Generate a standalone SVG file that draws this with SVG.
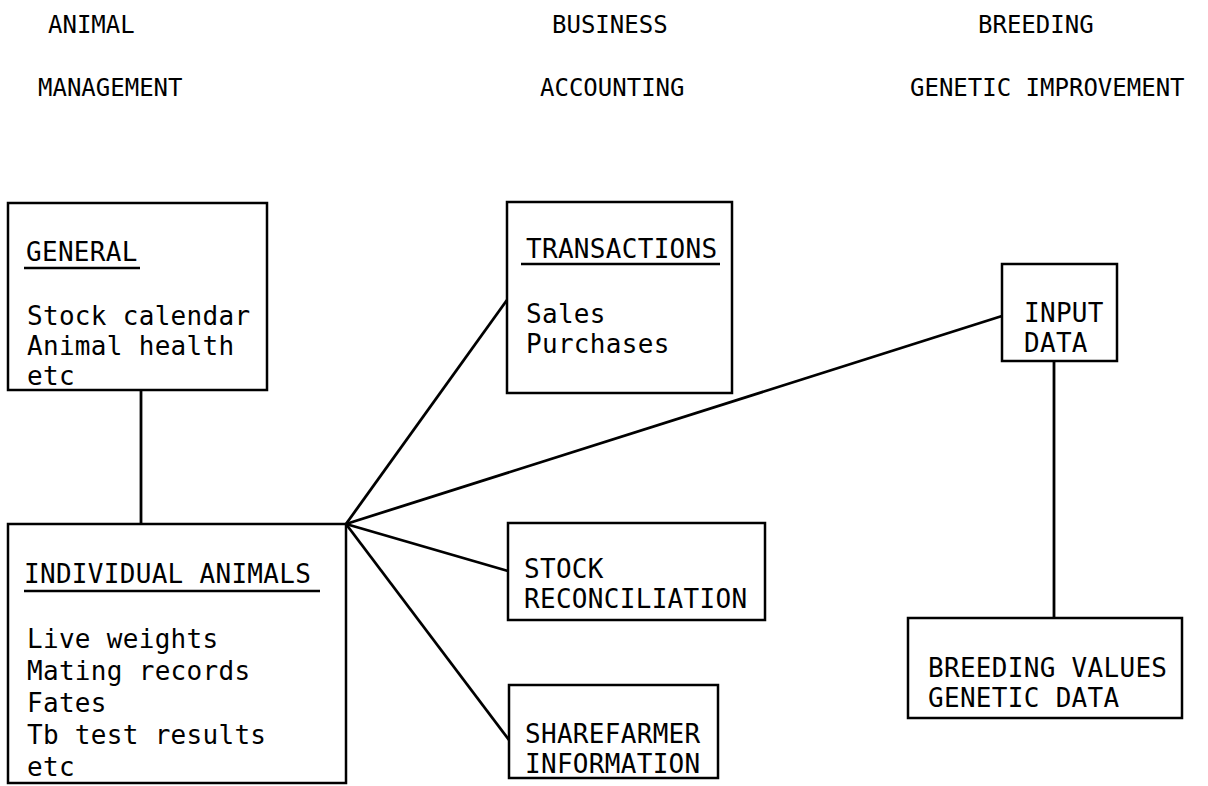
<svg xmlns="http://www.w3.org/2000/svg" width="1208" height="786" viewBox="0 0 1208 786">
<style>
.hd{font-family:"DejaVu Sans Mono","Liberation Mono",monospace;font-size:24px;fill:#000}
.t{font-family:"DejaVu Sans Mono","Liberation Mono",monospace;font-size:26px;fill:#000;letter-spacing:0.3px}
.box{fill:none;stroke:#000;stroke-width:2.5}
.ul{stroke:#000;stroke-width:2.5}
.ln{stroke:#000;stroke-width:2.8;fill:none}
</style>
<rect width="1208" height="786" fill="#fff"/>
<g id="headers">
<text class="hd" x="48" y="33">ANIMAL</text>
<text class="hd" x="38" y="96">MANAGEMENT</text>
<text class="hd" x="552" y="33">BUSINESS</text>
<text class="hd" x="540" y="96">ACCOUNTING</text>
<text class="hd" x="978" y="33">BREEDING</text>
<text class="hd" x="910" y="96">GENETIC IMPROVEMENT</text>
</g>
<g id="connectors">
<line class="ln" x1="141" y1="390" x2="141" y2="524"/>
<line class="ln" x1="346" y1="524" x2="507" y2="300"/>
<line class="ln" x1="346" y1="524" x2="1002" y2="316"/>
<line class="ln" x1="346" y1="524" x2="508" y2="571"/>
<line class="ln" x1="346" y1="524" x2="509" y2="740"/>
<line class="ln" x1="1054" y1="361" x2="1054" y2="618"/>
</g>
<g id="general">
<rect class="box" x="8" y="203" width="259" height="187"/>
<text class="t" x="26" y="261">GENERAL</text>
<line class="ul" x1="24" y1="268" x2="140" y2="268"/>
<text class="t" x="27" y="325">Stock calendar</text>
<text class="t" x="27" y="355">Animal health</text>
<text class="t" x="27" y="385">etc</text>
</g>
<g id="individual">
<rect class="box" x="8" y="524" width="338" height="259"/>
<text class="t" x="24" y="583">INDIVIDUAL ANIMALS</text>
<line class="ul" x1="24" y1="591" x2="320" y2="591"/>
<text class="t" x="27" y="648">Live weights</text>
<text class="t" x="27" y="680">Mating records</text>
<text class="t" x="27" y="712">Fates</text>
<text class="t" x="27" y="744">Tb test results</text>
<text class="t" x="27" y="776">etc</text>
</g>
<g id="transactions">
<rect class="box" x="507" y="202" width="225" height="191"/>
<text class="t" x="526" y="258">TRANSACTIONS</text>
<line class="ul" x1="521" y1="264" x2="720" y2="264"/>
<text class="t" x="526" y="323">Sales</text>
<text class="t" x="526" y="353">Purchases</text>
</g>
<g id="stock">
<rect class="box" x="508" y="523" width="257" height="97"/>
<text class="t" x="524" y="578">STOCK</text>
<text class="t" x="524" y="608">RECONCILIATION</text>
</g>
<g id="sharefarmer">
<rect class="box" x="509" y="685" width="209" height="93"/>
<text class="t" x="525" y="743">SHAREFARMER</text>
<text class="t" x="525" y="773">INFORMATION</text>
</g>
<g id="input">
<rect class="box" x="1002" y="264" width="115" height="97"/>
<text class="t" x="1024" y="322">INPUT</text>
<text class="t" x="1024" y="352">DATA</text>
</g>
<g id="breeding">
<rect class="box" x="908" y="618" width="274" height="100"/>
<text class="t" x="928" y="677">BREEDING VALUES</text>
<text class="t" x="928" y="707">GENETIC DATA</text>
</g>
</svg>
